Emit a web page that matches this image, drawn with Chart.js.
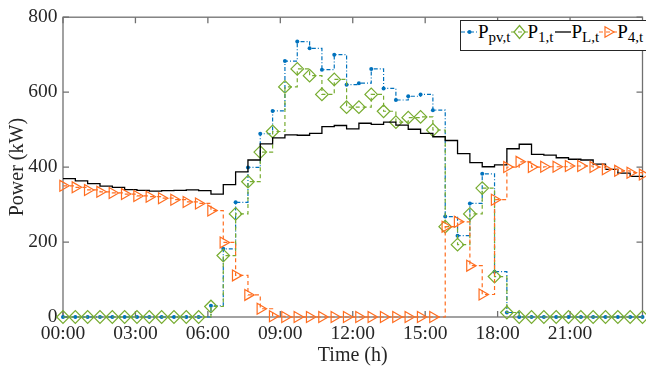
<!DOCTYPE html>
<html>
<head>
<meta charset="utf-8">
<script src="https://cdn.jsdelivr.net/npm/chart.js@4"></script>
<style>
html,body{margin:0;padding:0;width:646px;height:368px;overflow:hidden;background:#fff}
#wrap{position:relative;width:646px;height:368px;overflow:hidden}
#c{position:absolute;left:0;top:0}
#legend{position:absolute;left:460px;top:20px;width:230px;height:31px;box-sizing:border-box;border:1px solid #262626;background:#fff;display:flex;align-items:flex-start;font-family:"Liberation Serif","Times New Roman",serif;color:#000;white-space:nowrap}
#legend svg{display:block;flex:none}
#legend .P{font-size:19px;line-height:19px;margin-top:1px}
#legend .s{font-size:15px;line-height:15px;margin-top:9px}
</style>
</head>
<body>
<div id="wrap">
<canvas id="c" width="650" height="368"></canvas>
<div id="legend">
  <svg width="17" height="29"><line x1="0" y1="11" x2="17" y2="11" stroke="#0072BD" stroke-width="1.2" stroke-dasharray="4 2 1 2"/><circle cx="8.5" cy="11" r="2" fill="#0072BD"/></svg><span class="P">P</span><span class="s">pv,t</span>
  <svg width="17" height="29"><line x1="0" y1="11" x2="17" y2="11" stroke="#77AC30" stroke-width="1.2" stroke-dasharray="4 3"/><path d="M8.5 4.5 L14 11 L8.5 17.5 L3 11 Z" fill="none" stroke="#77AC30" stroke-width="1.2"/></svg><span class="P">P</span><span class="s">1,t</span>
  <svg width="18" height="29"><line x1="1" y1="11" x2="17" y2="11" stroke="#000" stroke-width="1.3"/></svg><span class="P">P</span><span class="s">L,t</span>
  <svg width="18" height="29"><line x1="0" y1="11" x2="18" y2="11" stroke="#FF6D1F" stroke-width="1.2" stroke-dasharray="4 3"/><path d="M15 11 L6 5.8 L6 16.2 Z" fill="none" stroke="#FF6D1F" stroke-width="1.2"/></svg><span class="P">P</span><span class="s">4,t</span>
</div>
</div>
<script>
// time stamps of the 48 samples (hours)
const timeHours = [0,0.511,1.021,1.532,2.043,2.553,3.064,3.574,4.085,4.596,5.106,5.617,
  6.128,6.638,7.149,7.660,8.170,8.681,9.191,9.702,10.213,10.723,11.234,11.745,
  12.255,12.766,13.277,13.787,14.298,14.809,15.319,15.830,16.340,16.851,17.362,17.872,
  18.383,18.894,19.404,19.915,20.426,20.936,21.447,21.957,22.468,22.979,23.489,24];

const pPV = [0,0,0,0,0,0,0,0,0,0,0,0,
  30,182,306,399,489,550,683,735,717,660,700,620,
  624,662,610,579,589,594,552,268,217,303,382,121,
  12,0,0,0,0,0,0,0,0,0,0,0];

const p1 = [0,0,0,0,0,0,0,0,0,0,0,0,
  28,164,275,361,440,495,614,662,644,594,634,560,
  560,594,549,520,532,534,499,241,193,275,344,108,
  12,0,0,0,0,0,0,0,0,0,0,0];

const pL = [369,363,356,349,346,340,338,336,337,338,339,337,
  328,353,387,419,462,478,486,485,490,508,511,502,
  517,514,520,512,501,490,481,471,436,412,401,406,
  449,461,434,432,425,421,419,408,394,384,375,372];

const p4 = [350,346,339,334,331,328,323,321,317,313,307,303,
  284,199,111,59,22,2,0,0,0,0,0,0,
  0,0,0,0,0,0,0,241,254,137,60,313,
  400,414,400,401,401,403,403,400,394,390,385,380];

const xTickValues = [0,3,6,9,12,15,18,21];
const xTickLabels = ['00:00','03:00','06:00','09:00','12:00','15:00','18:00','21:00'];
const yTickValues = [0,200,400,600,800];

const pts = arr => arr.map((v,i)=>({x:timeHours[i], y:v}));
const FONT = '"Liberation Serif","Times New Roman",serif';
const TXT = '#262626';

const boxPlugin = {
  id:'box',
  beforeDatasetsDraw(chart){
    const {ctx, chartArea:a, scales:{x,y}} = chart;
    ctx.save();
    ctx.strokeStyle = '#707070';
    ctx.lineWidth = 1.3;
    ctx.strokeRect(a.left, a.top, a.right-a.left, a.bottom-a.top);
    ctx.beginPath();
    xTickValues.forEach(v=>{
      const px = x.getPixelForValue(v);
      ctx.moveTo(px, a.bottom); ctx.lineTo(px, a.bottom-6);
      ctx.moveTo(px, a.top); ctx.lineTo(px, a.top+6);
    });
    yTickValues.forEach(v=>{
      const py = y.getPixelForValue(v);
      ctx.moveTo(a.left, py); ctx.lineTo(a.left+6, py);
      ctx.moveTo(a.right, py); ctx.lineTo(a.right-6, py);
    });
    ctx.stroke();
    ctx.restore();
  }
};

new Chart(document.getElementById('c'), {
  type:'line',
  data:{
    datasets:[
      {label:'Ppv,t', data:pts(pPV), stepped:'before', borderColor:'#0072BD', borderWidth:1.2, borderDash:[4,2,1,2],
        pointStyle:'circle', pointRadius:2, pointBorderWidth:0, pointBackgroundColor:'#0072BD', fill:false, clip:false, order:4},
      {label:'P1,t', data:pts(p1), stepped:'before', borderColor:'#77AC30', borderWidth:1.2, borderDash:[4,3],
        pointStyle:'rectRot', pointRadius:6.3, pointBorderWidth:1.2, pointBorderColor:'#77AC30', pointBackgroundColor:'rgba(0,0,0,0)', fill:false, clip:false, order:3},
      {label:'PL,t', data:pts(pL), stepped:'before', borderColor:'#000000', borderWidth:1.3,
        pointRadius:0, fill:false, clip:false, order:2},
      {label:'P4,t', data:pts(p4), stepped:'before', borderColor:'#FF6D1F', borderWidth:1.2, borderDash:[4,3],
        pointStyle:'triangle', rotation:90, pointRadius:6.3, pointBorderWidth:1.2, pointBorderColor:'#FF6D1F', pointBackgroundColor:'rgba(0,0,0,0)', fill:false, clip:false, order:1}
    ]
  },
  options:{
    responsive:false, animation:false, devicePixelRatio:1,
    layout:{padding:{left:0,right:0,top:16,bottom:0}},
    plugins:{legend:{display:false}, tooltip:{enabled:false}},
    scales:{
      x:{
        type:'linear', min:0, max:24,
        afterBuildTicks(s){ s.ticks = xTickValues.map(v=>({value:v})); },
        afterFit(s){ s.height = 51; },
        ticks:{callback:(v,i)=>xTickLabels[i], autoSkip:false, maxRotation:0, padding:5, color:TXT, font:{family:FONT,size:19.5}},
        grid:{display:false, drawTicks:false}, border:{display:false},
        title:{display:true, text:'Time (h)', color:TXT, font:{family:FONT,size:20}, padding:{top:0,bottom:0}}
      },
      y:{
        min:0, max:800,
        afterBuildTicks(s){ s.ticks = yTickValues.map(v=>({value:v})); },
        afterFit(s){ s.width = 63; },
        ticks:{padding:5.5, color:TXT, font:{family:FONT,size:19.5}},
        grid:{display:false, drawTicks:false}, border:{display:false},
        title:{display:true, text:'Power (kW)', color:TXT, font:{family:FONT,size:20}, padding:{top:6,bottom:0}}
      }
    }
  },
  plugins:[boxPlugin]
});
</script>
</body>
</html>
